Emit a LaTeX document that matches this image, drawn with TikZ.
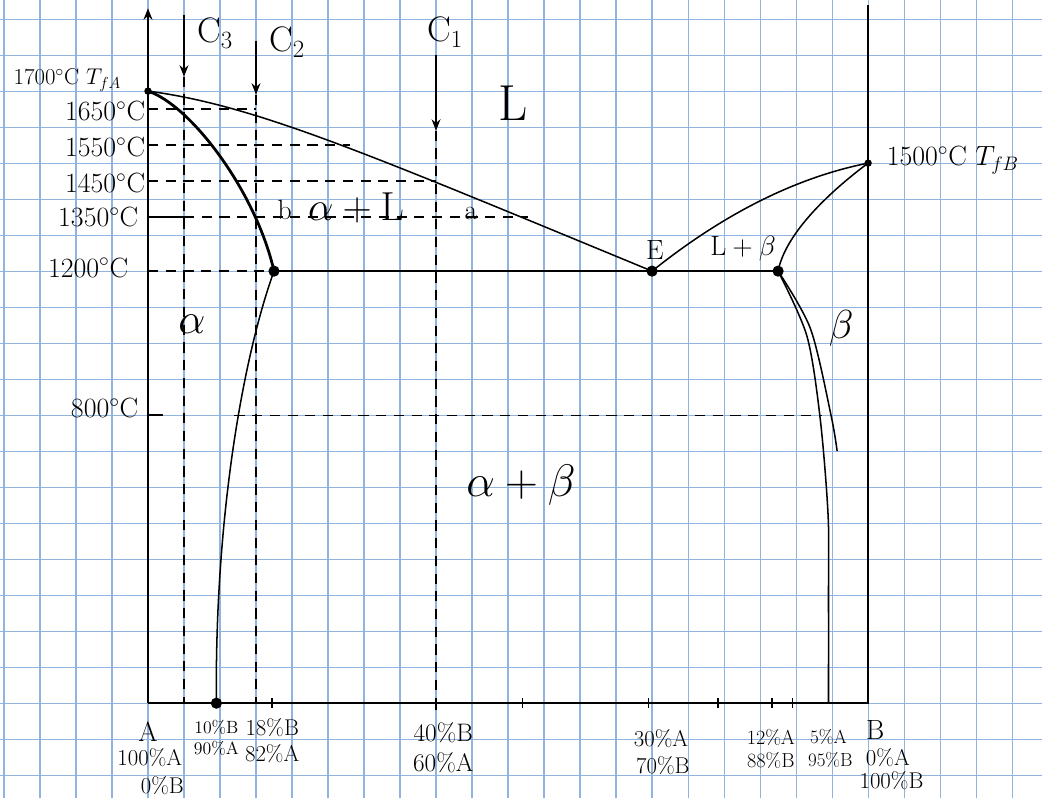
\RequirePackage{fix-cm}
\documentclass[tikz,border=0pt]{standalone}
\usepackage{amsmath}
\usepackage{tikz}
\usepackage{xcolor}
\usetikzlibrary{arrows.meta}
\definecolor{paperblue}{RGB}{145,180,222}

\begin{document}
\begin{tikzpicture}[thick, >={Stealth[length=9pt,width=7pt]},
    paper/.style={paperblue, line width=0.9pt},
    axis/.style={line width=1.6pt},
    curve/.style={line width=1.2pt},
    hdash/.style={line width=1pt, dash pattern=on 8pt off 6pt},
    tlab/.style={font=\fontsize{22}{24}\selectfont, inner sep=1pt},
    plab/.style={font=\fontsize{18}{20}\selectfont, inner sep=1pt},
    clab/.style={font=\fontsize{28}{30}\selectfont, inner sep=1pt},
    phase/.style={font=\fontsize{34}{38}\selectfont, inner sep=1pt}]
    \useasboundingbox (-4.11,-2.64) rectangle (24.83,19.53);
    \fill[white] (-4.11,-2.64) rectangle (24.83,19.53);
    \draw[paper] (-4.11,-2.64) grid (24.83,19.53);

    % key points
    \coordinate (TfA) at (0,17);
    \coordinate (TfB) at (20,15);
    \coordinate (E) at (14,12);
    \coordinate (aMax) at (3.5,12);
    \coordinate (bMax) at (17.5,12);
    \coordinate (aZero) at (1.9,0);

    % axes
    \draw[axis, ->] (0,0) -- (0,19.3);
    \draw[axis] (0,0) -- (20,0) -- (20,19.4);
    \foreach \x in {3.44,10.4,13.9,15.83,17.33,17.9}
        \draw[curve] (\x,-0.12) -- (\x,0.15);
    \draw[curve] (8,-0.2) -- (8,0);

    % alloys C1, C2, C3
    \node[clab] (C3) at (1.86,18.61) {C$_3$};
    \node[clab] (C2) at (3.86,18.36) {C$_2$};
    \node[clab] (C1) at (8.25,18.64) {C$_1$};
    \draw[curve, ->] (1,19.1) -- (1,17.4);
    \draw[curve, ->] (3,18.4) -- (3,16.9);
    \draw[curve, ->] (8,18.0) -- (8,15.9);
    \draw[hdash] (1,17.4) -- (1,0);
    \draw[hdash] (3,16.9) -- (3,0);
    \draw[hdash] (8,15.9) -- (8,0);

    % temperatures
    \draw[hdash] (0,16.5) -- (3,16.5);
    \draw[hdash] (0,15.5) -- (5.6,15.5);
    \draw[hdash] (0,14.5) -- (8,14.5);
    \draw[curve] (0,13.5) -- (1,13.5);
    \draw[hdash] (1,13.5) -- (10.55,13.5);
    \draw[hdash] (0,12) -- (aMax);
    \draw[curve] (0,8) -- (0.42,8);
    \draw[hdash] (2.4,8) -- (18.72,8);
    \node[tlab, anchor=east, font=\fontsize{18}{20}\selectfont] (tA) at (-0.7,17.3) {1700$^\circ$C $T_{fA}$};
    \node[tlab, anchor=east] (t1650) at (-0.03,16.45) {1650$^\circ$C};
    \node[tlab, anchor=east] (t1550) at (-0.03,15.45) {1550$^\circ$C};
    \node[tlab, anchor=east] (t1450) at (-0.03,14.45) {1450$^\circ$C};
    \node[tlab, anchor=east] (t1350) at (-0.22,13.5) {1350$^\circ$C};
    \node[tlab, anchor=east] (t1200) at (-0.5,12.1) {1200$^\circ$C};
    \node[tlab, anchor=east] (t800) at (-0.22,8.2) {800$^\circ$C};
    \node[tlab, anchor=west] (tB) at (20.47,15.08) {1500$^\circ$C $T_{fB}$};

    % liquidus, solidus, solvus
    \draw[curve] (TfA) .. controls (3,16.6) and (6,15.3) .. (E);
    \draw[line width=2.2pt] (TfA) .. controls (1.2,16.6) and (3.0,14.2) .. (aMax);
    \draw[curve] (aMax) .. controls (2.6,9.5) and (1.85,5) .. (aZero);
    \draw[curve] (E) .. controls (16,13.6) and (18,14.6) .. (TfB);
    \draw[curve] (TfB) .. controls (18.8,14.1) and (17.7,13) .. (bMax);
    \draw[curve] plot[smooth] coordinates {(17.5,12) (18.3,10.2) (18.67,7.9) (18.89,5.2) (18.9,3) (18.9,0)};
    \draw[curve] plot[smooth] coordinates {(17.5,12) (18.4,10.4) (18.97,8.0) (19.14,7.0)};
    \draw[line width=2pt] (aMax) -- (bMax);

    \filldraw (TfA) circle (2.5pt);
    \filldraw (TfB) circle (2.5pt);
    \filldraw (aMax) circle (4pt);
    \filldraw (E) circle (4pt);
    \filldraw (bMax) circle (4pt);
    \filldraw (aZero) circle (4pt);

    % phases
    \node[font=\fontsize{40}{44}\selectfont] (L) at (10.14,16.67) {L};
    \node[phase, font=\fontsize{32}{36}\selectfont] (aL) at (5.78,13.75) {$\alpha+\mathrm{L}$};
    \node[tlab] (b) at (3.8,13.7) {b};
    \node[tlab] (a) at (8.97,13.6) {a};
    \node[tlab] (Elab) at (14.08,12.58) {E};
    \node[tlab] (Lb) at (16.53,12.64) {$\mathrm{L}+\beta$};
    \node[phase, font=\fontsize{32}{36}\selectfont] (beta) at (19.25,10.42) {$\beta$};
    \node[phase] (alpha) at (1.22,10.53) {$\alpha$};
    \node[phase, font=\fontsize{36}{40}\selectfont] (ab) at (10.36,6.06) {$\alpha+\beta$};

    % compositions on the axis
    \node[tlab] (A) at (0,-0.8) {A};
    \node[plab] (pA1) at (0.05,-1.5) {100\%A};
    \node[plab] (pA2) at (0.4,-2.28) {0\%B};
    \node[plab, font=\fontsize{14}{16}\selectfont] (p10a) at (1.9,-0.67) {10\%B};
    \node[plab, font=\fontsize{14}{16}\selectfont] (p10b) at (1.9,-1.25) {90\%A};
    \node[plab] (p18a) at (3.45,-0.67) {18\%B};
    \node[plab] (p18b) at (3.45,-1.39) {82\%A};
    \node[plab, font=\fontsize{20}{22}\selectfont] (p40a) at (8.2,-0.83) {40\%B};
    \node[plab, font=\fontsize{20}{22}\selectfont] (p40b) at (8.2,-1.64) {60\%A};
    \node[plab] (p70a) at (14.25,-0.97) {30\%A};
    \node[plab] (p70b) at (14.3,-1.72) {70\%B};
    \node[plab, font=\fontsize{16}{18}\selectfont] (p88a) at (17.3,-0.94) {12\%A};
    \node[plab, font=\fontsize{16}{18}\selectfont] (p88b) at (17.3,-1.58) {88\%B};
    \node[plab, font=\fontsize{15}{17}\selectfont] (p95a) at (18.9,-0.94) {5\%A};
    \node[plab, font=\fontsize{15}{17}\selectfont] (p95b) at (18.95,-1.58) {95\%B};
    \node[tlab] (B) at (20.2,-0.75) {B};
    \node[plab] (pB1) at (20.55,-1.5) {0\%A};
    \node[plab] (pB2) at (20.65,-2.14) {100\%B};
\end{tikzpicture}
\end{document}
